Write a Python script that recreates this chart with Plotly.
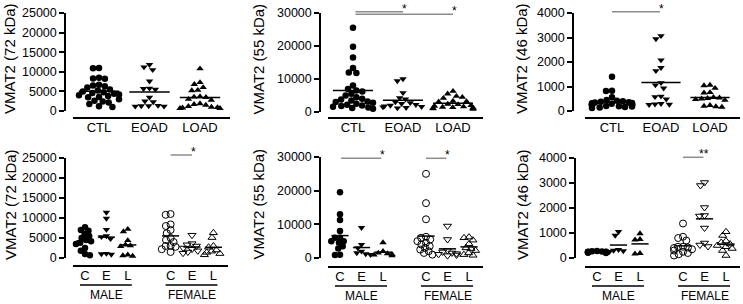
import numpy as np
import plotly.graph_objects as go

W, H = 743, 304

# ---------------- data ----------------
top_categories = ["CTL", "EOAD", "LOAD"]
bottom_categories = ["C", "E", "L", "C", "E", "L"]
sex_labels = ["MALE", "FEMALE"]
y_titles = ["VMAT2 (72 kDa)", "VMAT2 (55 kDa)", "VMAT2 (46 kDa)"]
y_ticks_72 = [0, 5000, 10000, 15000, 20000, 25000]
y_ticks_55 = [0, 10000, 20000, 30000]
y_ticks_46 = [0, 1000, 2000, 3000, 4000]

# top row: all subjects
kda72_ctl = [11000, 10900, 8500, 8300, 8200, 6700, 6500, 6300, 6000, 5500, 5200, 5000, 4800, 4600,
             4400, 4200, 4000, 3800, 3600, 3500, 3000, 2600, 2400, 2200, 1800, 1200, 1000]
kda72_eoad = [11800, 11200, 10500, 7600, 5800, 5700, 5500, 3500, 2500, 2300, 1400, 1300, 1300, 1200, 1200]
kda72_load = [10800, 7300, 6800, 6000, 5300, 5200, 3700, 3600, 3500, 3000, 2800, 1900, 1700, 1500,
              1200, 1000, 900, 800, 700, 700]

kda55_ctl = [25500, 19800, 16500, 13300, 12000, 11800, 8000, 7000, 6500, 6200, 5500, 5000, 4500, 4000,
             3800, 3500, 3200, 3000, 2800, 2500, 2200, 2000, 1800, 1600, 1400, 1200, 1000]
kda55_eoad = [10000, 9400, 5800, 4300, 3900, 3000, 2800, 2500, 2200, 2000, 1800, 1600, 1500, 1300, 1200]
kda55_load = [6300, 5500, 4800, 4500, 4200, 3300, 3200, 3100, 2400, 2300, 2000, 1800, 1600, 1500,
              1400, 1300, 1200, 1100, 1000, 900]

kda46_ctl = [1400, 830, 820, 560, 450, 420, 400, 380, 360, 350, 330, 320, 300, 290, 280, 270, 260,
             250, 240, 230, 220, 200, 190, 180, 160, 140, 120]
kda46_eoad = [3070, 2940, 2080, 1770, 1640, 1150, 1060, 930, 600, 580, 480, 300, 280, 270, 260]
kda46_load = [1060, 1040, 930, 760, 740, 560, 540, 520, 500, 470, 440, 230, 200, 180, 160]

# bottom row: split by sex (male C, E, L / female C, E, L)
kda72_male_c = [7700, 7000, 6800, 6000, 5500, 5000, 4500, 4200, 3800, 3500, 2500, 1800, 1000, 700]
kda72_male_e = [11400, 9900, 7100, 5500, 5300, 4800, 1100, 1000, 900]
kda72_male_l = [7200, 6600, 4400, 3300, 3100, 2900, 800, 600, 500]
kda72_female_c = [11000, 10800, 8400, 8000, 7000, 6200, 5000, 4500, 4000, 3000, 2800, 3000, 2200, 1500]
kda72_female_e = [5700, 3600, 3300, 3000, 2500, 2200, 1800, 1500, 1200]
kda72_female_l = [6300, 5100, 3000, 2700, 2000, 1700, 1400, 1100, 800]

kda55_male_c = [19500, 13000, 11300, 8000, 6000, 5000, 6000, 4500, 5000, 3500, 2800, 1000, 900]
kda55_male_e = [9000, 4000, 3000, 2000, 1500, 1200, 1000]
kda55_male_l = [4600, 2000, 1500, 1300, 1100, 900, 700]
kda55_female_c = [25000, 16300, 11500, 6300, 6000, 5500, 5000, 4500, 4000, 3500, 3000, 2500, 2000,
                  1500, 1000]
kda55_female_e = [9500, 5500, 2200, 1800, 1500, 1300, 1100, 900, 700]
kda55_female_l = [6200, 6000, 5300, 4200, 3000, 2800, 2200, 1500, 1000, 800]

kda46_male_c = [280, 270, 260, 250, 250, 240, 240, 230, 220, 210, 200]
kda46_male_e = [1050, 900, 330, 300, 280, 250]
kda46_male_l = [980, 750, 730, 190, 170]
kda46_female_c = [1380, 850, 800, 700, 450, 420, 450, 400, 350, 300, 250, 200, 150, 100]
kda46_female_e = [3020, 2900, 2020, 1700, 1680, 1200, 600, 520, 460]
kda46_female_l = [1050, 900, 680, 620, 560, 500, 450, 380, 300, 100]

# ---------------- layout geometry (pixels) ----------------
FONT = "Arial, 'Liberation Sans', Helvetica, sans-serif"
panels = [
    dict(ax=65, y0=111, yt=13, by=118, bx0=73, bx1=230, c0=99, st=50.5, ymax=25000, ticks=y_ticks_72,
         title=y_titles[0], tx=10),
    dict(ax=320, y0=112, yt=13, by=118, bx0=328, bx1=483, c0=353, st=50.0, ymax=30000, ticks=y_ticks_55,
         title=y_titles[1], tx=258),
    dict(ax=573, y0=111, yt=13, by=118, bx0=585, bx1=740, c0=612, st=49.0, ymax=4000, ticks=y_ticks_46,
         title=y_titles[2], tx=522),
    dict(ax=65, y0=258, yt=158, by=266, bx0=73, bx1=228, c0=85, st=21.4, ymax=25000, ticks=y_ticks_72,
         title=y_titles[0], tx=10),
    dict(ax=320, y0=258, yt=157, by=267, bx0=328, bx1=483, c0=340, st=21.5, ymax=30000, ticks=y_ticks_55,
         title=y_titles[1], tx=258),
    dict(ax=575, y0=258, yt=158, by=267, bx0=585, bx1=740, c0=597, st=21.5, ymax=4000, ticks=y_ticks_46,
         title=y_titles[2], tx=522),
]

top_groups = [
    [kda72_ctl, kda72_eoad, kda72_load],
    [kda55_ctl, kda55_eoad, kda55_load],
    [kda46_ctl, kda46_eoad, kda46_load],
]
bottom_groups = [
    [kda72_male_c, kda72_male_e, kda72_male_l, kda72_female_c, kda72_female_e, kda72_female_l],
    [kda55_male_c, kda55_male_e, kda55_male_l, kda55_female_c, kda55_female_e, kda55_female_l],
    [kda46_male_c, kda46_male_e, kda46_male_l, kda46_female_c, kda46_female_e, kda46_female_l],
]
top_idx = [0, 1, 2]
bottom_idx = [0, 1, 2, 4, 5, 6]
top_symbols = ["circle", "triangle-down", "triangle-up"]
bottom_symbols = ["circle", "triangle-down", "triangle-up",
                  "circle-open", "triangle-down-open", "triangle-up-open"]


def swarm(values, ypx_per_unit, d, maxw):
    vals = np.asarray(values, float)
    ys = vals * ypx_per_unit
    order = np.argsort(-vals, kind="stable")
    placed = []
    offs = np.zeros(len(vals))
    for i in order:
        y = ys[i]
        cands = [0.0]
        for (px, py) in placed:
            dy = abs(py - y)
            if dy < d:
                dx = np.sqrt(d * d - dy * dy)
                cands += [px + dx, px - dx]
        cands = sorted(set(cands), key=lambda c: (abs(c), c))
        best = cands[-1]
        for c in cands:
            if all((c - px) ** 2 + (y - py) ** 2 >= d * d - 1e-6 for px, py in placed):
                best = c
                break
        best = max(-maxw, min(maxw, best))
        placed.append((best, y))
        offs[i] = best
    return offs


fig = go.Figure()
shapes = []
annotations = []


def px_x(p, idx):
    return p["c0"] + p["st"] * idx


for k, p in enumerate(panels):
    n = k + 1
    xname = "x" if n == 1 else f"x{n}"
    yname = "y" if n == 1 else f"y{n}"
    top = k < 3
    groups = top_groups[k] if top else bottom_groups[k - 3]
    idxs = top_idx if top else bottom_idx
    syms = top_symbols if top else bottom_symbols
    cats = top_categories if top else bottom_categories
    ypx = (p["y0"] - p["yt"]) / p["ymax"]
    d = 6.0 if top else 5.0
    maxw = 20 if top else 9
    msize = 6.5
    for g, i, s in zip(groups, idxs, syms):
        offs = swarm(g, ypx, d, maxw) / p["st"]
        is_open = s.endswith("open")
        fig.add_trace(go.Scatter(
            x=i + offs, y=g, mode="markers", xaxis=xname, yaxis=yname, cliponaxis=False,
            marker=dict(symbol=s, size=msize + (0.5 if is_open else 0), color="black",
                        line=dict(color="black", width=1 if is_open else 0)),
            showlegend=False, hoverinfo="skip"))
        m = float(np.mean(g))
        fig.add_trace(go.Scatter(
            x=[i - 0.4, i + 0.4], y=[m, m], mode="lines", xaxis=xname, yaxis=yname,
            line=dict(color="black", width=1.5), showlegend=False, hoverinfo="skip"))

    xr = [(p["ax"] - p["c0"]) / p["st"], (p["bx1"] + 2 - p["c0"]) / p["st"]]
    fig.layout[("xaxis" if n == 1 else f"xaxis{n}")] = dict(
        domain=[p["ax"] / W, (p["bx1"] + 2) / W], range=xr, anchor="free",
        position=1 - p["by"] / H, tickvals=idxs, ticktext=cats, ticks="",
        showline=False, showgrid=False, zeroline=False, automargin=False,
        tickfont=dict(family=FONT, size=13, color="black"), fixedrange=True)
    fig.layout[("yaxis" if n == 1 else f"yaxis{n}")] = dict(
        domain=[1 - p["y0"] / H, 1 - p["yt"] / H], range=[0, p["ymax"]], anchor="free",
        position=p["ax"] / W, tickvals=p["ticks"], tickformat="d", ticks="outside", ticklen=5,
        tickwidth=1.5, tickcolor="black", showline=True, linewidth=1.5, linecolor="black",
        showgrid=False, zeroline=False, automargin=False,
        tickfont=dict(family=FONT, size=12.5, color="black"), fixedrange=True)

    # baseline
    shapes.append(dict(type="line", xref="paper", yref="paper",
                       x0=p["bx0"] / W, x1=p["bx1"] / W, y0=1 - p["by"] / H, y1=1 - p["by"] / H,
                       line=dict(color="black", width=2)))
    # y title
    annotations.append(dict(text=p["title"], xref="paper", yref="paper", x=p["tx"] / W,
                            y=1 - ((p["y0"] + p["yt"]) / 2 - 3) / H, textangle=-90, showarrow=False,
                            font=dict(family=FONT, size=15, color="black"),
                            xanchor="center", yanchor="middle"))
    if not top:
        for gi, (a, b) in enumerate([(0, 2), (4, 6)]):
            xa = px_x(p, a) - 5
            xb = px_x(p, b) + 4
            uy = p["by"] + 19
            shapes.append(dict(type="line", xref="paper", yref="paper", x0=xa / W, x1=xb / W,
                               y0=1 - uy / H, y1=1 - uy / H, line=dict(color="black", width=1.5)))
            annotations.append(dict(text=sex_labels[gi], xref="paper", yref="paper",
                                    x=(px_x(p, a) + px_x(p, b)) / 2 / W, y=1 - (uy + 10) / H,
                                    showarrow=False, font=dict(family=FONT, size=12, color="black"),
                                    xanchor="center", yanchor="middle"))

# significance bars: (panel, from index, to index, y pixel, label)
sig = [
    (1, 0.05, 1.0, 11.7, "*"),
    (1, 0.05, 2.0, 14.3, "*"),
    (2, 0.0, 0.98, 11.7, "*"),
    (3, 4.0, 5.0, 155.0, "*"),
    (4, 0.05, 1.92, 158.3, "*"),
    (4, 4.0, 4.95, 158.3, "*"),
    (5, 4.0, 4.95, 157.3, "**"),
]
for k, a, b, ypix, lab in sig:
    p = panels[k]
    x0 = px_x(p, a)
    x1 = px_x(p, b)
    shapes.append(dict(type="line", xref="paper", yref="paper", x0=x0 / W, x1=x1 / W,
                       y0=1 - ypix / H, y1=1 - ypix / H, line=dict(color="#8c8c8c", width=1.5)))
    top_px = max(0.5, ypix - 11.5)
    annotations.append(dict(text=lab, xref="paper", yref="paper", x=(x1 + 1) / W, y=1 - top_px / H,
                            showarrow=False, font=dict(family=FONT, size=12, color="black"),
                            xanchor="center", yanchor="top", borderpad=0))

fig.update_layout(
    template="none",
    width=W, height=H, margin=dict(l=0, r=0, t=0, b=0, pad=0, autoexpand=False),
    paper_bgcolor="white", plot_bgcolor="white",
    shapes=shapes, annotations=annotations, showlegend=False,
    font=dict(family=FONT, color="black"),
)

fig.write_html("out.html", config={"displayModeBar": False},
               post_script="document.body.style.margin='0';document.body.style.overflow='hidden';")
